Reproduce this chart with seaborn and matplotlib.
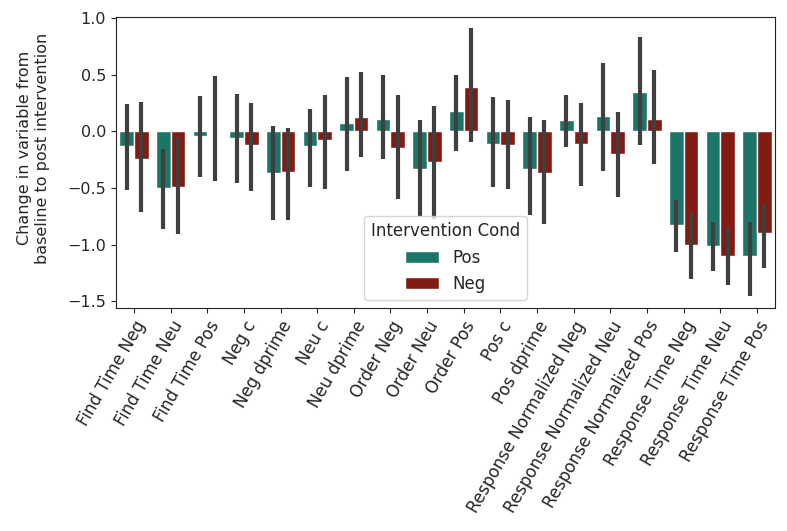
import numpy as np
import pandas as pd
import seaborn as sns
import matplotlib.pyplot as plt

variables = ["Find Time Neg", "Find Time Neu", "Find Time Pos", "Neg c", "Neg dprime",
             "Neu c", "Neu dprime", "Order Neg", "Order Neu", "Order Pos", "Pos c",
             "Pos dprime", "Response Normalized Neg", "Response Normalized Neu",
             "Response Normalized Pos", "Response Time Neg", "Response Time Neu",
             "Response Time Pos"]
conds = ["Pos", "Neg"]

pos_mean = [-0.13, -0.50, -0.04, -0.055, -0.37, -0.13, 0.07, 0.11, -0.33, 0.18, -0.11,
            -0.33, 0.10, 0.135, 0.35, -0.83, -1.01, -1.10]
pos_lo = [-0.52, -0.86, -0.40, -0.46, -0.78, -0.49, -0.35, -0.24, -0.75, -0.17, -0.49,
          -0.74, -0.14, -0.35, -0.12, -1.07, -1.23, -1.45]
pos_hi = [0.24, -0.16, 0.31, 0.33, 0.05, 0.20, 0.48, 0.50, 0.10, 0.50, 0.30,
          0.13, 0.32, 0.60, 0.83, -0.61, -0.80, -0.80]

neg_mean = [-0.24, -0.49, 0.01, -0.12, -0.36, -0.08, 0.125, -0.15, -0.27, 0.39, -0.12,
            -0.37, -0.11, -0.20, 0.11, -1.00, -1.10, -0.90]
neg_lo = [-0.71, -0.91, -0.44, -0.53, -0.78, -0.51, -0.23, -0.60, -0.77, -0.09, -0.51,
          -0.82, -0.48, -0.58, -0.29, -1.30, -1.36, -1.21]
neg_hi = [0.26, -0.05, 0.49, 0.25, 0.03, 0.32, 0.52, 0.32, 0.22, 0.91, 0.28,
          0.10, 0.25, 0.17, 0.54, -0.71, -0.85, -0.64]


def main():
    df = pd.DataFrame({
        "variable": variables * 2,
        "Intervention Cond": ["Pos"] * len(variables) + ["Neg"] * len(variables),
        "change": pos_mean + neg_mean,
    })

    sns.set_style("ticks")
    fig, ax = plt.subplots(figsize=(7.87, 5.31), dpi=100)
    fig.subplots_adjust(left=0.147, right=0.985, top=0.968, bottom=0.42)

    sns.barplot(data=df, x="variable", y="change", hue="Intervention Cond",
                hue_order=conds, palette=["#1c7668", "#821c12"], saturation=1,
                errorbar=None, ax=ax)

    # error bars from the summary values, on top of each bar
    for cont, lo, hi in zip(ax.containers, [pos_lo, neg_lo], [pos_hi, neg_hi]):
        xs = [p.get_x() + p.get_width() / 2 for p in cont.patches]
        ax.vlines(xs, lo, hi, color="#3f3f3f", lw=3.0, zorder=3)

    ax.set_xlim(-0.5, len(variables) - 0.5)
    ax.set_ylim(-1.56, 1.01)
    ax.set_yticks(np.arange(-1.5, 1.01, 0.5))
    ax.set_xlabel("")
    ax.set_ylabel("Change in variable from\nbaseline to post intervention", fontsize=11.5)
    ax.yaxis.set_label_coords(-0.1, 0.55)
    ax.tick_params(axis="y", labelsize=11.5)
    plt.setp(ax.get_xticklabels(), rotation=60, ha="right", rotation_mode="anchor",
             fontsize=12)
    for s in ax.spines.values():
        s.set_visible(True)
        s.set_color("#222222")

    leg = ax.legend(title="Intervention Cond", loc="lower center", fontsize=12,
                    title_fontsize=12)
    leg.set_zorder(5)

    plt.savefig("out.png")
    plt.close()


if __name__ == "__main__":
    main()
